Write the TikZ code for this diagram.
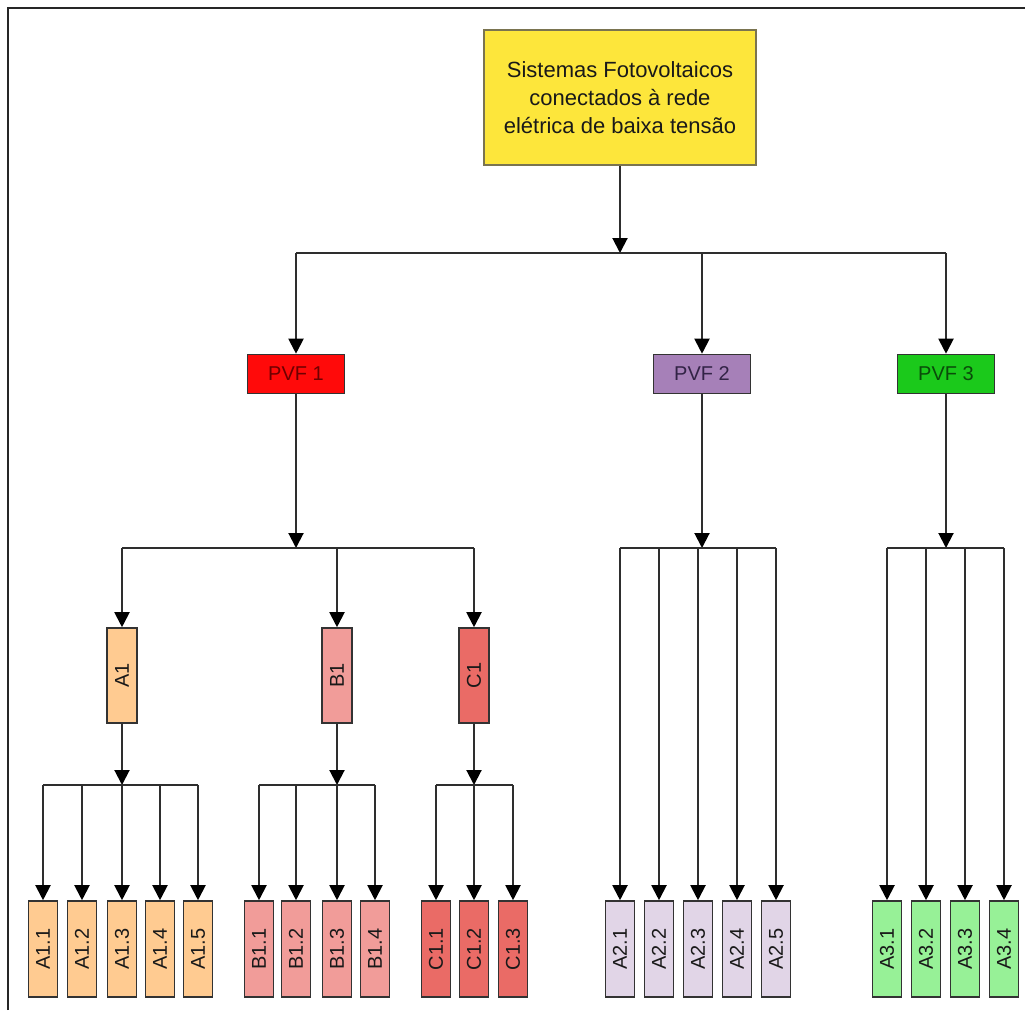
\documentclass[tikz,border=0pt]{standalone}
\usepackage{fontspec}
\usepackage{graphicx}
\setmainfont{Liberation Sans}
\usetikzlibrary{arrows.meta}
\definecolor{cTop}{HTML}{FDE63B}
\definecolor{cTopB}{HTML}{7A7450}
\definecolor{cP1}{HTML}{FF0A0A}
\definecolor{cP2}{HTML}{A680B8}
\definecolor{cP3}{HTML}{1BC91B}
\definecolor{cA}{HTML}{FFCB91}
\definecolor{cB}{HTML}{F19C99}
\definecolor{cC}{HTML}{EA6B66}
\definecolor{cA2}{HTML}{E1D5E7}
\definecolor{cA3}{HTML}{97F197}
\definecolor{cLine}{HTML}{2E2E2E}
\begin{document}
\begin{tikzpicture}[x=1pt,y=-1pt,
  box/.style={draw=black!80, line width=1.6pt, inner sep=0pt, text=black!90,
    font=\fontsize{20}{24}\selectfont},
  pvf/.style={box, minimum width=97pt, minimum height=39pt},
  mid/.style={box, minimum width=30pt, minimum height=95pt, font=\fontsize{20}{22}\selectfont},
  leaf/.style={box, minimum width=29pt, minimum height=96pt, font=\fontsize{20}{22}\selectfont},
  ln/.style={draw=cLine, line width=2pt},
  arr/.style={draw=cLine, line width=2pt, -{Triangle[width=15pt,length=15pt,color=black]}}]
\useasboundingbox (0,0) rectangle (1025,1010);
\fill[white] (0,0) rectangle (1025,1010);
\draw[line width=2.5pt, black!85] (8,1010) -- (8,8) -- (1025,8);

% top
\node[box, fill=cTop, draw=cTopB, minimum width=272pt, minimum height=135pt, align=center,
  font=\fontsize{22}{28}\selectfont] (top) at (620,97.5)
  {Sistemas Fotovoltaicos\\conectados à rede\\elétrica de baixa tensão};

% level 1
\node[pvf, fill=cP1, text={rgb,255:red,110;green,0;blue,0}] (p1) at (296,374) {PVF 1};
\node[pvf, fill=cP2, text={rgb,255:red,50;green,35;blue,70}] (p2) at (702,374) {PVF 2};
\node[pvf, fill=cP3, text={rgb,255:red,10;green,75;blue,10}] (p3) at (946,374) {PVF 3};

% level 2 (PVF 1)
\node[mid, fill=cA] (a1) at (122,675.5) {\rotatebox{90}{A1}};
\node[mid, fill=cB] (b1) at (337,675.5) {\rotatebox{90}{B1}};
\node[mid, fill=cC] (c1) at (474,675.5) {\rotatebox{90}{C1}};

% leaves
\foreach \x [count=\i] in {43,82,122,160,198}
  \node[leaf, fill=cA] (a1\i) at (\x,949) {\rotatebox{90}{A1.\i}};
\foreach \x [count=\i] in {259,296,337,375}
  \node[leaf, fill=cB] (b1\i) at (\x,949) {\rotatebox{90}{B1.\i}};
\foreach \x [count=\i] in {436,474,513}
  \node[leaf, fill=cC] (c1\i) at (\x,949) {\rotatebox{90}{C1.\i}};
\foreach \x [count=\i] in {620,659,698,737,776}
  \node[leaf, fill=cA2] (a2\i) at (\x,949) {\rotatebox{90}{A2.\i}};
\foreach \x [count=\i] in {887,926,965,1004}
  \node[leaf, fill=cA3] (a3\i) at (\x,949) {\rotatebox{90}{A3.\i}};

% junctions
\coordinate (j0) at (620,253);
\coordinate (j1) at (296,548);
\coordinate (j2) at (702,548);
\coordinate (j3) at (946,548);
\coordinate (ja) at (122,785);
\coordinate (jb) at (337,785);
\coordinate (jc) at (474,785);

% top -> PVF
\draw[arr] (top.south) -- (j0);
\draw[ln] (p1.north |- j0) -- (p3.north |- j0);
\foreach \n in {p1,p2,p3} \draw[arr] (\n.north |- j0) -- (\n.north);

% PVF1 -> A1,B1,C1
\draw[arr] (p1.south) -- (j1);
\draw[ln] (a1.north |- j1) -- (c1.north |- j1);
\foreach \n in {a1,b1,c1} \draw[arr] (\n.north |- j1) -- (\n.north);

% A1 -> leaves
\draw[arr] (a1.south) -- (ja);
\draw[ln] (a11.north |- ja) -- (a15.north |- ja);
\foreach \i in {1,...,5} \draw[arr] (a1\i.north |- ja) -- (a1\i.north);

% B1 -> leaves
\draw[arr] (b1.south) -- (jb);
\draw[ln] (b11.north |- jb) -- (b14.north |- jb);
\foreach \i in {1,...,4} \draw[arr] (b1\i.north |- jb) -- (b1\i.north);

% C1 -> leaves
\draw[arr] (c1.south) -- (jc);
\draw[ln] (c11.north |- jc) -- (c13.north |- jc);
\foreach \i in {1,...,3} \draw[arr] (c1\i.north |- jc) -- (c1\i.north);

% PVF2 -> leaves
\draw[arr] (p2.south) -- (j2);
\draw[ln] (a21.north |- j2) -- (a25.north |- j2);
\foreach \i in {1,...,5} \draw[arr] (a2\i.north |- j2) -- (a2\i.north);

% PVF3 -> leaves
\draw[arr] (p3.south) -- (j3);
\draw[ln] (a31.north |- j3) -- (a34.north |- j3);
\foreach \i in {1,...,4} \draw[arr] (a3\i.north |- j3) -- (a3\i.north);
\end{tikzpicture}
\end{document}
